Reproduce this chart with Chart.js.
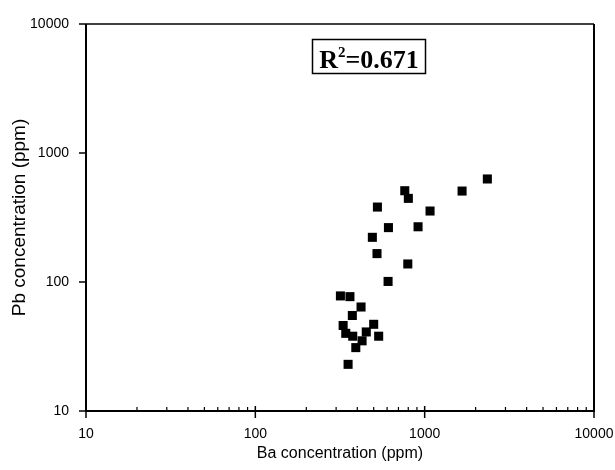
<!DOCTYPE html>
<html>
<head>
<meta charset="utf-8">
<script src="https://cdn.jsdelivr.net/npm/chart.js@4/dist/chart.umd.min.js"></script>
<style>
html,body{margin:0;padding:0;background:#fff;}
#wrap{width:615px;height:470px;position:relative;}
</style>
</head>
<body>
<div id="wrap"><canvas id="c" width="615" height="470"></canvas></div>
<script>
// Ba concentration (ppm), x values
const baValues = [2345, 1663, 763, 801, 526, 1076, 611, 914, 491, 523, 795, 608, 318, 362, 421, 374, 330, 500, 342, 452, 535, 376, 427, 392, 353];
// Pb concentration (ppm), y values
const pbValues = [629, 507, 510, 445, 381, 355, 264, 268, 222, 166, 138, 101, 78, 77, 64, 55, 46, 47, 40, 41, 38, 38, 35, 31, 23];
const majorTicks = [10, 100, 1000, 10000];
const minorFactors = [2, 3, 4, 5, 6, 7, 8, 9];
const xTitle = 'Ba concentration (ppm)';
const yTitle = 'Pb concentration (ppm)';
const r2Text = '=0.671';

const points = baValues.map((x, i) => ({x: x, y: pbValues[i]}));

const frame = {
  id: 'frame',
  afterDatasetsDraw(chart) {
    const ctx = chart.ctx;
    const a = chart.chartArea;
    const xs = chart.scales.x, ys = chart.scales.y;
    ctx.save();
    ctx.strokeStyle = '#000';
    ctx.lineWidth = 2;
    ctx.beginPath();
    ctx.moveTo(a.left, a.top); ctx.lineTo(a.left, a.bottom); ctx.lineTo(a.right, a.bottom); ctx.lineTo(a.right, a.top);
    ctx.stroke();
    ctx.lineWidth = 1.3;
    ctx.beginPath(); ctx.moveTo(a.left, a.top); ctx.lineTo(a.right, a.top); ctx.stroke();
    ctx.lineWidth = 1.5;
    majorTicks.forEach(v => {
      const px = xs.getPixelForValue(v);
      ctx.beginPath(); ctx.moveTo(px, a.bottom); ctx.lineTo(px, a.bottom + 7); ctx.stroke();
      ctx.beginPath(); ctx.moveTo(px, a.bottom); ctx.lineTo(px, a.bottom - 5); ctx.stroke();
      const py = ys.getPixelForValue(v);
      ctx.beginPath(); ctx.moveTo(a.left - 7, py); ctx.lineTo(a.left, py); ctx.stroke();
    });
    ctx.lineWidth = 1.2;
    for (let d = 10; d < 10000; d *= 10) {
      minorFactors.forEach(f => {
        const px = xs.getPixelForValue(d * f);
        ctx.beginPath(); ctx.moveTo(px, a.bottom); ctx.lineTo(px, a.bottom - 4); ctx.stroke();
      });
    }
    const bx = 312.5, by = 39.5, bw = 113, bh = 34;
    ctx.lineWidth = 1.5;
    ctx.strokeRect(bx, by, bw, bh);
    ctx.fillStyle = '#000';
    ctx.textBaseline = 'alphabetic';
    const big = 'bold 26px "Liberation Serif", "Times New Roman", serif';
    const small = 'bold 15px "Liberation Serif", "Times New Roman", serif';
    ctx.font = big; const wR = ctx.measureText('R').width; const wT = ctx.measureText(r2Text).width;
    ctx.font = small; const w2 = ctx.measureText('2').width;
    let tx = bx + (bw - (wR + w2 + wT)) / 2;
    const base = 68;
    ctx.font = big; ctx.fillText('R', tx, base); tx += wR;
    ctx.font = small; ctx.fillText('2', tx, base - 11); tx += w2;
    ctx.font = big; ctx.fillText(r2Text, tx, base);
    ctx.restore();
  }
};

new Chart(document.getElementById('c'), {
  type: 'scatter',
  data: {
    datasets: [{
      data: points,
      pointStyle: 'rect',
      pointRadius: 6.4,
      pointHoverRadius: 6.4,
      backgroundColor: '#000',
      borderWidth: 0
    }]
  },
  options: {
    responsive: false,
    animation: false,
    events: [],
    layout: {padding: {left: 0, right: 21, top: 24, bottom: 0}},
    plugins: {legend: {display: false}, tooltip: {enabled: false}},
    scales: {
      x: {
        type: 'logarithmic',
        min: 10, max: 10000,
        afterFit(s) { s.height = 59; s.paddingRight = 0; s.paddingLeft = 0; },
        afterBuildTicks(s) { s.ticks = majorTicks.map(v => ({value: v})); },
        grid: {display: false},
        border: {display: false},
        ticks: {
          color: '#000', padding: 7, maxRotation: 0, autoSkip: false,
          font: {family: '"Liberation Sans", Arial, sans-serif', size: 14},
          callback: v => String(v)
        },
        title: {
          display: true, text: xTitle, color: '#000',
          font: {family: '"Liberation Sans", Arial, sans-serif', size: 16},
          padding: {top: 0, bottom: 7}
        }
      },
      y: {
        type: 'logarithmic',
        min: 10, max: 10000,
        afterFit(s) { s.width = 86; },
        afterBuildTicks(s) { s.ticks = majorTicks.map(v => ({value: v})); },
        grid: {display: false},
        border: {display: false},
        ticks: {
          color: '#000', padding: 9, autoSkip: false,
          font: {family: '"Liberation Sans", Arial, sans-serif', size: 14},
          callback: v => String(v)
        },
        title: {
          display: true, text: yTitle, color: '#000',
          font: {family: '"Liberation Sans", Arial, sans-serif', size: 19},
          padding: {top: 8, bottom: 0}
        }
      }
    }
  },
  plugins: [frame]
});
</script>
</body>
</html>
